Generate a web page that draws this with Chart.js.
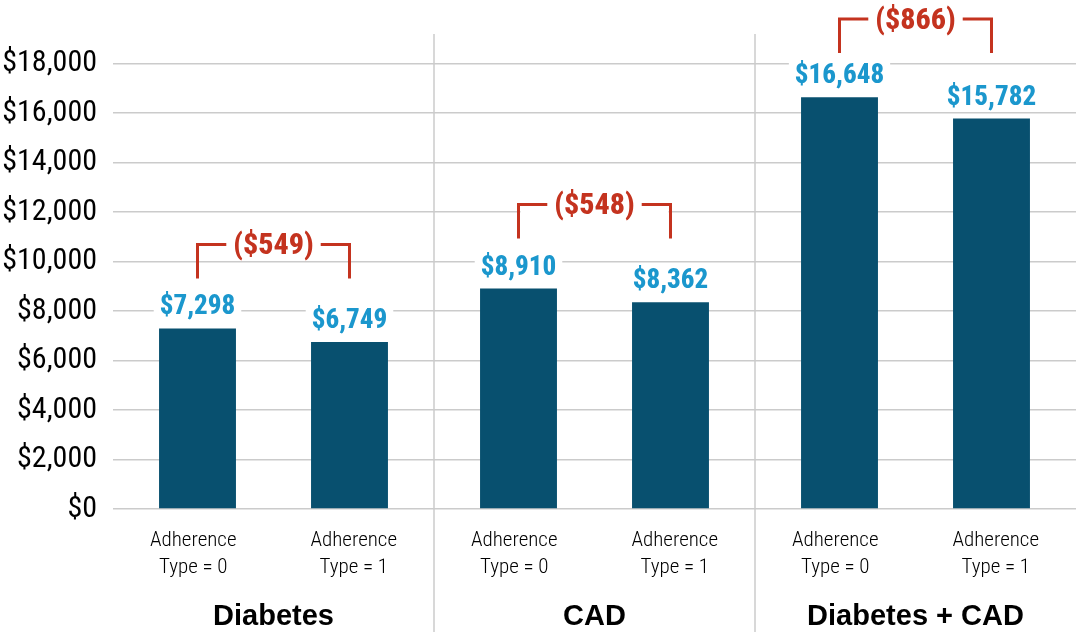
<!DOCTYPE html>
<html>
<head>
<meta charset="utf-8">
<script src="https://cdn.jsdelivr.net/npm/chart.js@4.4.1/dist/chart.umd.min.js"></script>
<style>
  html, body { margin: 0; padding: 0; background: #fff; }
  #wrap { width: 1076px; height: 637px; }
</style>
</head>
<body>
<div id="wrap"><canvas id="c"></canvas></div>
<script>
// datos
const groups = ['Diabetes', 'CAD', 'Diabetes + CAD'];
const barLabels = [
  ['Adherence', 'Type = 0'], ['Adherence', 'Type = 1'],
  ['Adherence', 'Type = 0'], ['Adherence', 'Type = 1'],
  ['Adherence', 'Type = 0'], ['Adherence', 'Type = 1']
];
const type0Costs = [7298, 8910, 16648];
const type1Costs = [6749, 8362, 15782];
const yTicks = [0, 2000, 4000, 6000, 8000, 10000, 12000, 14000, 16000, 18000];

const COND = "'Roboto Condensed', 'DejaVu Sans Condensed', sans-serif";
const SANS = "'Liberation Sans', Arial, sans-serif";
const BAR = '#08506f';
const BLUE = '#1b97cd';
const RED = '#c4331f';
const GRID = '#cbcbcb';

const money = v => '$' + v.toLocaleString('en-US');

// etiquetas de valor encima de cada barra
const valueLabels = {
  id: 'valueLabels',
  afterDatasetsDraw(chart) {
    const ctx = chart.ctx;
    ctx.save();
    ctx.font = `800 27px ${COND}`;
    ctx.textAlign = 'center';
    ctx.textBaseline = 'alphabetic';
    chart.data.datasets.forEach((ds, di) => {
      chart.getDatasetMeta(di).data.forEach((bar, i) => {
        const txt = money(ds.data[i]);
        const w = ctx.measureText(txt).width;
        const base = bar.y - 14;
        ctx.fillStyle = '#fff';
        ctx.fillRect(bar.x - w / 2 - 6, base - 24, w + 12, 28);
        ctx.fillStyle = BLUE;
        ctx.fillText(txt, bar.x, base);
      });
    });
    ctx.restore();
  }
};

// corchetes rojos con la diferencia entre tipos
const diffBrackets = {
  id: 'diffBrackets',
  afterDatasetsDraw(chart) {
    const ctx = chart.ctx;
    const m0 = chart.getDatasetMeta(0).data;
    const m1 = chart.getDatasetMeta(1).data;
    ctx.save();
    ctx.font = `800 30px ${COND}`;
    ctx.textAlign = 'center';
    ctx.textBaseline = 'middle';
    groups.forEach((g, i) => {
      const x0 = m0[i].x, x1 = m1[i].x;
      const top = Math.max(19, Math.min(m0[i].y, m1[i].y) - 84);
      const bottom = top + 34;
      const txt = '(' + money(type0Costs[i] - type1Costs[i]) + ')';
      const cx = (x0 + x1) / 2;
      const w = ctx.measureText(txt).width;
      ctx.fillStyle = '#fff';
      ctx.fillRect(x0 + 2, top - 14, x1 - x0 - 4, 30);
      ctx.strokeStyle = RED;
      ctx.lineWidth = 3;
      ctx.beginPath();
      ctx.moveTo(x0, bottom); ctx.lineTo(x0, top); ctx.lineTo(cx - w / 2 - 7, top);
      ctx.moveTo(cx + w / 2 + 7, top); ctx.lineTo(x1, top); ctx.lineTo(x1, bottom);
      ctx.stroke();
      ctx.fillStyle = RED;
      ctx.fillText(txt, cx, top + 2);
    });
    ctx.restore();
  }
};

// separadores verticales entre grupos
const groupSeparators = {
  id: 'groupSeparators',
  afterDraw(chart) {
    const ctx = chart.ctx;
    const x = chart.scales.x;
    ctx.save();
    ctx.strokeStyle = GRID;
    ctx.lineWidth = 1.5;
    for (let i = 1; i < groups.length; i++) {
      const px = (x.getPixelForValue(i - 1) + x.getPixelForValue(i)) / 2;
      ctx.beginPath();
      ctx.moveTo(px, chart.chartArea.top);
      ctx.lineTo(px, chart.height - 5);
      ctx.stroke();
    }
    ctx.restore();
  }
};

new Chart(document.getElementById('c'), {
  type: 'bar',
  data: {
    labels: groups,
    datasets: [
      { label: 'Adherence Type = 0', data: type0Costs, backgroundColor: BAR,
        categoryPercentage: 0.947, barPercentage: 0.506 },
      { label: 'Adherence Type = 1', data: type1Costs, backgroundColor: BAR,
        categoryPercentage: 0.947, barPercentage: 0.506 }
    ]
  },
  options: {
    responsive: true,
    maintainAspectRatio: false,
    animation: false,
    layout: { padding: { top: 29, left: 0, right: 0, bottom: 0 } },
    plugins: { legend: { display: false }, tooltip: { enabled: false } },
    scales: {
      y: {
        min: 0, max: 19200,
        afterBuildTicks: s => { s.ticks = yTicks.map(v => ({ value: v })); },
        afterFit: s => { s.width = 113; },
        border: { display: false },
        grid: { color: GRID, lineWidth: 1.5, drawTicks: false },
        ticks: { padding: 16, color: '#000', font: { family: COND, size: 30 }, callback: v => money(v) }
      },
      x: {
        position: 'bottom', weight: 2,
        border: { display: false },
        grid: { display: false, drawTicks: false },
        afterFit: s => { s.height = 48; },
        ticks: { padding: 11, color: '#000', maxRotation: 0, autoSkip: false,
                 font: { family: SANS, size: 29, weight: 'bold' } }
      },
      x2: {
        type: 'category', labels: barLabels, offset: true,
        position: 'bottom', weight: 1,
        border: { display: false },
        grid: { display: false, drawTicks: false },
        afterFit: s => { s.height = 80; },
        ticks: { padding: 18, color: '#000', maxRotation: 0, autoSkip: false,
                 font: { family: COND, size: 21, weight: 300, lineHeight: 1.286 } }
      }
    }
  },
  plugins: [groupSeparators, valueLabels, diffBrackets]
});
</script>
</body>
</html>
